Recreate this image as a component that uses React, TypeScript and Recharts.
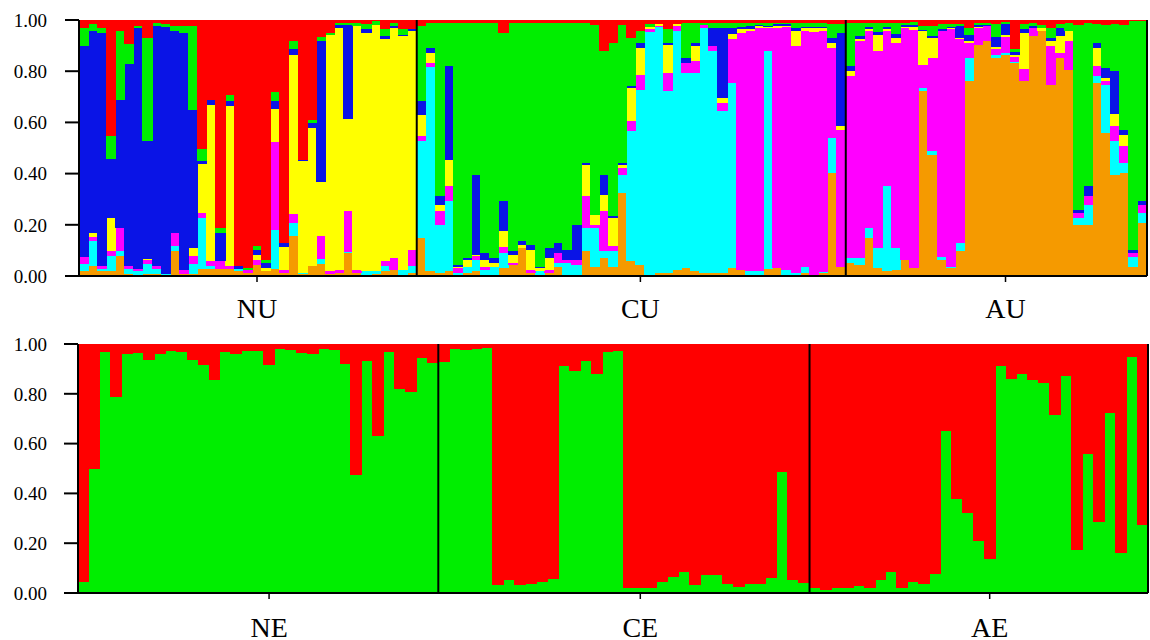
import React from 'react';
import { BarChart, Bar, XAxis, YAxis, ReferenceLine } from 'recharts';

const FONT = '"Liberation Serif", "Times New Roman", Times, serif';

// ---------- upper panel (K = 7) ----------
const upperGroups = ['NU', 'CU', 'AU'];
const upperGroupSizes = [37, 47, 33];
const upperLabelAt = ['20', '62', '102'];
const upperStarts = ['38', '85'];

const upOrange = [.02,.04,.02,.02,.08,.01,0,.01,.01,0,.10,.01,.01,.03,.03,.03,.03,.02,.015,.045,.02,.03,.013,.16,.01,.04,.05,.01,.013,.09,.013,.007,.01,.02,.026,.006,.013,
  .15,.02,.013,.02,0,.013,.02,0,.006,.033,.046,.111,.013,.007,.013,.039,.006,.006,.098,.039,.072,.039,.326,.059,.046,.006,.013,.013,.026,.033,.02,.013,.013,.013,.033,.026,.007,.007,.03,.033,.007,0,.013,.007,.013,.404,.039,
  .052,.046,.15,.033,.02,.026,.065,.033,.724,.476,.065,.033,.098,.763,.906,.919,.854,.867,.834,.763,.939,.958,.75,.854,.808,.202,.202,.756,.561,.398,.404,.039,.209];
const upCyan = [.03,.10,.01,.06,.02,.02,.02,.04,.02,.01,.02,0,.04,.20,.01,0,0,.01,0,0,0,.15,0,.05,.005,0,.02,0,0,.007,0,.013,.01,.02,0,.02,.027,
  .378,.80,.19,.273,.013,.026,.046,.026,.033,.058,0,0,0,.013,0,.013,.046,.039,.091,.15,.026,.059,.072,.508,.684,.95,.96,.711,.932,.762,.775,.958,.867,.632,.723,0,.013,.013,.85,0,.02,.013,.026,0,.005,.137,0,
  .02,.026,.039,.078,.332,.085,0,0,.013,.013,.013,.006,.033,.091,0,0,.013,.005,.005,0,0,0,0,0,0,.026,.078,.026,.189,.13,.039,.039,.039];
const upMagenta = [.025,.015,.01,.02,.09,.01,.01,.015,.01,0,.05,.015,.03,.02,.02,.03,.01,0,.01,.02,0,.345,.013,.035,0,0,.09,.01,.013,.157,.013,0,0,.02,.046,0,.064,
  .02,.013,.052,.059,.02,0,.013,.013,0,.026,.006,0,.013,0,.013,.039,.013,.02,.124,.013,.156,.02,.026,.039,.059,.01,.007,.071,.02,.039,.046,.013,.02,.033,.17,.926,.938,.95,.09,.937,.948,.887,.921,.95,.942,.352,.535,
  .71,.847,.769,.769,.606,.802,.906,.93,.091,.365,.88,.926,.796,.059,.065,.059,.02,.065,.02,.046,.033,0,.15,.02,.111,.02,.033,.039,.013,.059,.065,.013,.033];
const upYellow = [0,.015,0,.13,0,0,0,.005,0,0,0,0,.03,.19,.61,0,.625,0,0,.02,.013,.13,.09,.62,.435,.54,.21,.923,.945,.36,.952,.932,.964,.867,.90,.913,.854,
  .084,.04,.026,.104,.006,.026,.006,.026,.013,.059,.033,.013,.078,.013,.046,0,0,0,.124,.039,.066,.111,.013,.13,.104,.01,.007,.111,.007,0,.059,0,0,.02,.02,.013,.007,.007,.005,.01,.005,.06,.01,.013,.01,.02,.013,
  .02,.007,.01,.065,.01,.02,.005,.01,.13,.078,0,.005,.005,.005,.005,0,.01,.005,.005,.144,0,.013,.02,.065,.039,0,0,.072,.013,.046,.046,0,0];
const upBlue = [.825,.79,.91,.23,.50,.79,.94,.46,.94,.965,.79,.925,.54,.01,.02,.11,.02,.01,0,.02,.02,.03,.014,.025,.006,.02,.55,0,.013,.37,0,.013,0,.013,.007,.006,.007,
  .052,.02,.033,.365,.007,.007,.313,.026,.02,.117,.013,.013,.02,.006,.039,.039,.039,.137,.006,0,.078,.007,.007,.007,.02,0,0,.007,0,.02,.013,0,.071,.274,.026,.01,.013,.007,.005,.005,.005,.01,.005,.005,.005,.02,.365,
  .02,.013,.005,.01,.005,.013,.005,.01,.005,.007,.007,.005,.046,.026,.005,.005,.039,.046,.013,.013,.005,0,.013,.033,0,.013,.039,.02,.039,.17,.02,.013,.013];
const upGreen = [.07,.025,.02,.09,.27,.08,.01,.40,.01,.01,.02,.03,.33,.05,0,.02,.025,0,.01,.015,.012,.035,0,.03,0,.013,.015,.01,.006,.006,.012,.02,.013,.026,.013,.02,0,
  .294,.097,.676,.169,.944,.918,.592,.899,.918,.659,.892,.853,.866,.951,.879,.86,.886,.788,.547,.743,.482,.677,.54,.189,.045,.01,0,.052,0,.136,.077,.006,.019,.018,.018,.015,.012,.006,.01,.005,.005,.02,.015,.015,.015,.052,.033,
  .168,.052,.017,.035,.017,.044,.01,.01,.017,.039,.02,.01,.007,.026,.01,.007,.05,.005,.013,.02,.013,.013,.039,.015,.033,.723,.638,.072,.169,.182,.41,.893,.704];
const upRed = [.03,.015,.03,.45,.04,.09,.02,.07,.01,.015,.02,.02,.02,.50,.31,.81,.29,.96,.965,.88,.935,.28,.87,.08,.544,.387,.065,.047,.01,.01,.01,.015,.003,.034,.008,.035,.035,
  .022,.01,.01,.01,.01,.01,.01,.01,.01,.048,.01,.01,.01,.01,.01,.01,.01,.01,.01,.016,.12,.087,.016,.068,.042,.014,.013,.035,.015,.01,.01,.01,.01,.01,.01,.01,.01,.01,.01,.01,.01,.01,.01,.01,.01,.015,.015,
  .01,.009,.01,.01,.01,.01,.009,.007,.02,.022,.015,.015,.015,.03,.009,.01,.014,.007,.11,.014,.01,.016,.028,.013,.009,.016,.01,.015,.016,.015,.016,.003,.002];

// ---------- lower panel (K = 2) ----------
const lowerGroups = ['NE', 'CE', 'AE'];
const lowerGroupSizes = [33, 34, 31];
const lowerLabelAt = ['18', '52', '84'];
const lowerStarts = ['34', '68'];

const lowGreen = [.048,.50,.969,.788,.96,.967,.938,.96,.973,.969,.936,.916,.858,.969,.96,.973,.973,.916,.982,.978,.965,.962,.98,.978,.922,.477,.933,.634,.969,.822,.808,.946,.925,
  .929,.982,.976,.982,.987,.035,.054,.035,.038,.048,.058,.912,.893,.933,.882,.969,.973,.024,.021,.021,.048,.067,.088,.035,.075,.075,.04,.027,.04,.04,.062,.487,.054,.044,
  .021,.013,.024,.021,.031,.021,.054,.088,.021,.048,.04,.08,.654,.379,.322,.209,.138,.912,.862,.882,.858,.845,.718,.875,.174,.56,.286,.724,.161,.949,.276];
const lowRed = [.952,.50,.031,.212,.04,.033,.062,.04,.027,.031,.064,.084,.142,.031,.04,.027,.027,.084,.018,.022,.035,.038,.02,.022,.078,.523,.067,.366,.031,.178,.192,.054,.075,
  .071,.018,.024,.018,.013,.965,.946,.965,.962,.952,.942,.088,.107,.067,.118,.031,.027,.976,.979,.979,.952,.933,.912,.965,.925,.925,.96,.973,.96,.96,.938,.513,.946,.956,
  .979,.987,.976,.979,.969,.979,.946,.912,.979,.952,.96,.92,.346,.621,.678,.791,.862,.088,.138,.118,.142,.155,.282,.125,.826,.44,.714,.276,.839,.051,.724];

const yTicks = [0, 0.2, 0.4, 0.6, 0.8, 1];

const COLORS: Record<string, string> = {
  orange: '#F59A00',
  cyan: '#00FFFF',
  magenta: '#FF00FF',
  yellow: '#FFFF00',
  blue: '#0A14E6',
  green: '#00EE00',
  red: '#FF0000',
};

const upperData = upOrange.map((_, i) => ({
  id: String(i + 1),
  orange: upOrange[i], cyan: upCyan[i], magenta: upMagenta[i], yellow: upYellow[i],
  blue: upBlue[i], green: upGreen[i], red: upRed[i],
}));
const lowerData = lowGreen.map((_, i) => ({ id: String(i + 1), green: lowGreen[i], red: lowRed[i] }));

const upperKeys = ['orange', 'cyan', 'magenta', 'yellow', 'blue', 'green', 'red'];
const lowerKeys = ['green', 'red'];

function nameFor(labels: string[], groups: string[]) {
  return (v: string) => {
    const k = labels.indexOf(String(v));
    return k >= 0 ? groups[k] : '';
  };
}

type PanelProps = {
  data: any[];
  keys: string[];
  width: number;
  height: number;
  top: number;
  marginTop: number;
  marginRight: number;
  yWidth: number;
  xHeight: number;
  tickMarginY: number;
  tickMarginX: number;
  labelAt: string[];
  groups: string[];
  starts: string[];
  barSize: number;
};

function Panel(p: PanelProps) {
  const last = p.data[p.data.length - 1].id;
  return (
    <div style={{ position: 'absolute', left: 0, top: p.top }}>
      <BarChart
        width={p.width}
        height={p.height}
        data={p.data}
        margin={{ top: p.marginTop, right: p.marginRight, bottom: 0, left: 0 }}
        barCategoryGap={0}
        barGap={0}
      >
        <XAxis
          dataKey="id"
          type="category"
          ticks={p.labelAt}
          interval={0}
          tickFormatter={nameFor(p.labelAt, p.groups)}
          height={p.xHeight}
          tickSize={6}
          tickMargin={p.tickMarginX}
          axisLine={{ stroke: '#000', strokeWidth: 2 }}
          tickLine={{ stroke: '#000', strokeWidth: 1.5 }}
          tick={{ fill: '#000', fontSize: 28, fontFamily: FONT }}
        />
        <YAxis
          type="number"
          domain={[0, 1]}
          allowDataOverflow
          ticks={yTicks}
          interval={0}
          tickFormatter={(v: number) => v.toFixed(2)}
          width={p.yWidth}
          tickSize={14}
          tickMargin={p.tickMarginY}
          axisLine={{ stroke: '#000', strokeWidth: 2 }}
          tickLine={{ stroke: '#000', strokeWidth: 2 }}
          tick={{ fill: '#000', fontSize: 19, fontFamily: FONT }}
        />
        {p.keys.map((k) => (
          <Bar
            key={k}
            dataKey={k}
            stackId="s"
            fill={COLORS[k]}
            stroke={COLORS[k]}
            strokeWidth={1}
            barSize={p.barSize}
            isAnimationActive={false}
          />
        ))}
        {p.starts.map((s) => (
          <ReferenceLine key={s} x={s} position="start" stroke="#000" strokeWidth={2} />
        ))}
        <ReferenceLine x={last} position="end" stroke="#000" strokeWidth={2} />
      </BarChart>
    </div>
  );
}

export default function App() {
  return (
    <div style={{ position: 'absolute', left: 0, top: 0, width: 1150, height: 640, background: '#fff', overflow: 'hidden' }}>
      <style>{'.recharts-bar-rectangle path, .recharts-bar-rectangle rect { shape-rendering: crispEdges; }'}</style>
      <Panel
        data={upperData}
        keys={upperKeys}
        width={1150}
        height={330}
        top={0}
        marginTop={20}
        marginRight={3}
        yWidth={79}
        xHeight={54}
        tickMarginY={18}
        tickMarginX={16}
        labelAt={upperLabelAt}
        groups={upperGroups}
        starts={upperStarts}
        barSize={9.12}
      />
      <Panel
        data={lowerData}
        keys={lowerKeys}
        width={1150}
        height={310}
        top={330}
        marginTop={14}
        marginRight={2}
        yWidth={78}
        xHeight={47}
        tickMarginY={17}
        tickMarginX={18}
        labelAt={lowerLabelAt}
        groups={lowerGroups}
        starts={lowerStarts}
        barSize={10.9}
      />
    </div>
  );
}
